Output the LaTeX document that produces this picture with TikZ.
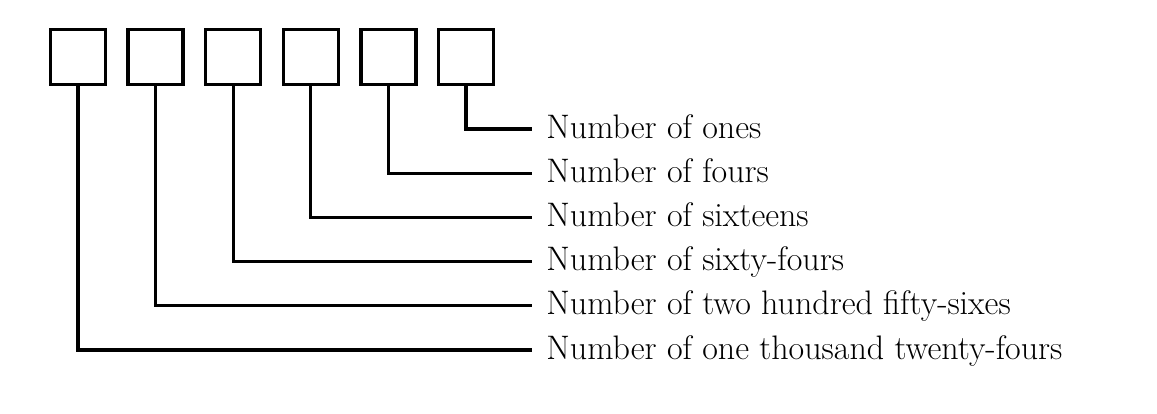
\documentclass[tikz,border=0pt]{standalone}
\usepackage{tikz}

\begin{document}
\begin{tikzpicture}[
        x = 0.5pt, y = -0.5pt, % one unit per pixel, y downwards
        line width = 1.65pt, % line style
        place/.style = {draw, minimum size=27.5pt, inner sep=0pt},
        count/.style = {anchor=west, inner xsep=6.5pt, inner ysep=0pt,
            text height=11.5pt, text depth=2.5pt,
            font=\fontsize{17}{20}\selectfont},
    ]
        \useasboundingbox (0,0) rectangle (1157,413);

        % Draw the boxes
        \foreach \i in {1,...,6} {
            \node[place] (b\i) at ({78+77.6*(\i-1)},56.7) {};
        }

        % Draw the labels
        \foreach \i/\txt in {
            1/ones,
            2/fours,
            3/sixteens,
            4/sixty-fours,
            5/two hundred fifty-sixes,
            6/one thousand twenty-fours} {
            \node[count] (l\i) at (531.7,{129+44.2*(\i-1)}) {Number of \txt};
        }

        % Draw the connectors
        \foreach \b/\e in {
            b6/l1,
            b5/l2,
            b4/l3,
            b3/l4,
            b2/l5,
            b1/l6} {
            \draw (\b.south) |- (\e.west);
        }
    \end{tikzpicture}
\end{document}
